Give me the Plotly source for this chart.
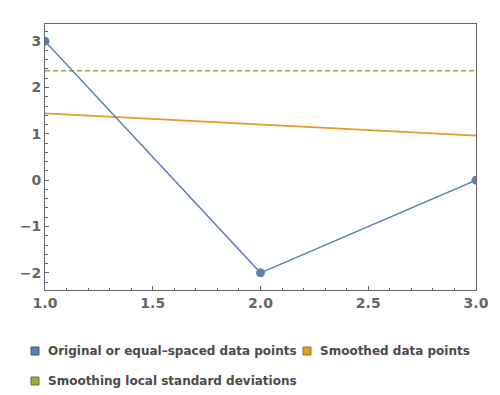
import plotly.graph_objects as go

# Data
orig_x = [1, 2, 3]
orig_y = [3.0, -2.0, 0.0]
smooth_x = [1, 3]
smooth_y = [1.44, 0.96]
std_x = [1, 3]
std_y = [2.36, 2.36]

legend_labels = ["Original or equal\u2013spaced data points", "Smoothed data points",
                 "Smoothing local standard deviations"]
colors = ["#5e81b5", "#e19c24", "#8fb032"]
border = ["#3f5a80", "#9c6c19", "#637b23"]

x_ticks = [1.0, 1.5, 2.0, 2.5, 3.0]
y_ticks = [-2, -1, 0, 1, 2, 3]

fig = go.Figure()
fig.add_trace(go.Scatter(x=std_x, y=std_y, mode="lines",
                         line=dict(color=colors[2], width=1.5, dash="5px,3px"),
                         showlegend=False))
fig.add_trace(go.Scatter(x=smooth_x, y=smooth_y, mode="lines",
                         line=dict(color=colors[1], width=1.8),
                         showlegend=False))
fig.add_trace(go.Scatter(x=orig_x, y=orig_y, mode="lines+markers",
                         line=dict(color=colors[0], width=1.5),
                         marker=dict(color=colors[0], size=9),
                         showlegend=False, cliponaxis=True))

axis_common = dict(
    showline=True, linecolor="#666666", linewidth=1, mirror=True,
    ticks="inside", ticklen=4, tickcolor="#666666", tickwidth=1,
    showgrid=False, zeroline=False,
    tickfont=dict(family="DejaVu Sans", size=14, color="#666666", weight="bold"),
)

fig.update_xaxes(range=[1, 3], tickvals=x_ticks,
                 ticktext=[f"{v:.1f}" for v in x_ticks],
                 minor=dict(dtick=0.1, ticks="inside", ticklen=2.5, tickcolor="#666666", showgrid=False),
                 ticklabelstandoff=0,
                 **axis_common)
fig.update_yaxes(range=[-2.37, 3.37], tickvals=y_ticks,
                 ticktext=[str(v).replace("-", "\u2212") for v in y_ticks],
                 minor=dict(dtick=0.2, ticks="inside", ticklen=2.5, tickcolor="#666666", showgrid=False),
                 ticklabelstandoff=0,
                 **axis_common)

# Legend (squares + labels) placed below the plot
W, H = 500, 395
items = [(35, 351, 46), (307, 351, 318), (35, 381, 46)]
shapes = []
annotations = []
for (cx, cy, tx), lab, c, b in zip(items, legend_labels, colors, border):
    shapes.append(dict(type="rect", xref="paper", yref="paper",
                       x0=(cx - 4 - 45) / (W - 45 - 24), x1=(cx + 4 - 45) / (W - 45 - 24),
                       y0=(290 - (cy + 4)) / (290 - 24), y1=(290 - (cy - 4)) / (290 - 24),
                       fillcolor=c, line=dict(color=b, width=1)))
    annotations.append(dict(xref="paper", yref="paper",
                            x=(tx - 45) / (W - 45 - 24), y=(290 - cy) / (290 - 24),
                            xanchor="left", yanchor="middle", showarrow=False, text=lab,
                            font=dict(family="DejaVu Sans", size=12, color="#4a4a4a", weight="bold")))

fig.update_layout(width=W, height=H, margin=dict(l=45, r=24, t=24, b=105),
                  plot_bgcolor="white", paper_bgcolor="white",
                  shapes=shapes, annotations=annotations, showlegend=False)

fig.write_html("out.html", config={"displayModeBar": False},
               post_script="document.body.style.margin='0';")
